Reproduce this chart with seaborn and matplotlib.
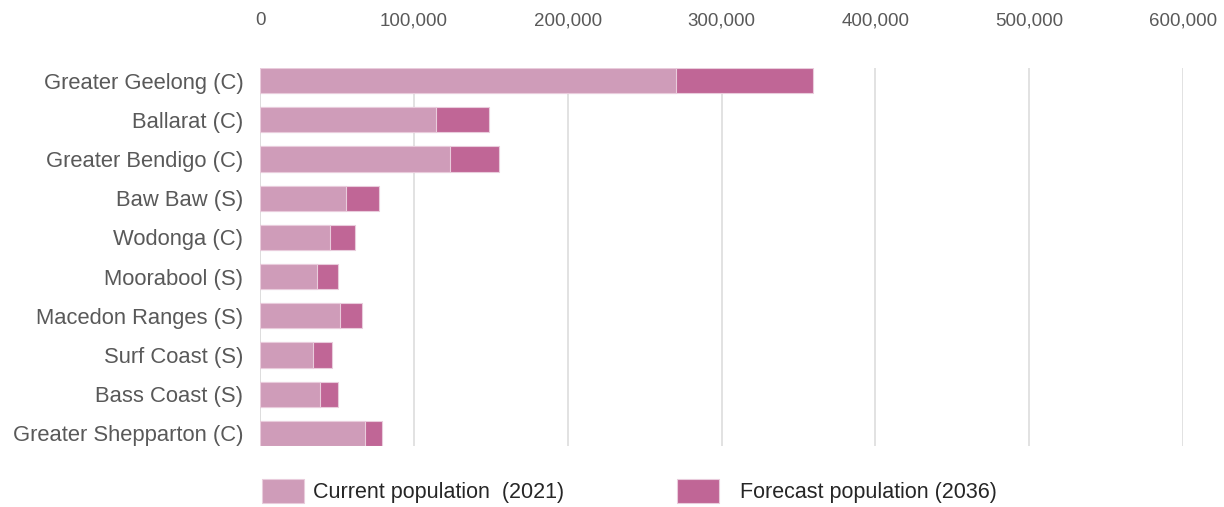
import matplotlib
matplotlib.use("Agg")
import matplotlib.pyplot as plt
import matplotlib.patches as mpatches
from matplotlib.ticker import FuncFormatter
import seaborn as sns
import pandas as pd

lgas = ["Greater Geelong (C)", "Ballarat (C)", "Greater Bendigo (C)", "Baw Baw (S)",
        "Wodonga (C)", "Moorabool (S)", "Macedon Ranges (S)", "Surf Coast (S)",
        "Bass Coast (S)", "Greater Shepparton (C)"]
current_2021 = [270600, 114700, 123700, 56100, 45400, 36900, 51900, 34500, 38900, 68200]
forecast_2036 = [359600, 149100, 155600, 77300, 61800, 51000, 66400, 46700, 51000, 79500]
xticks = [0, 100000, 200000, 300000, 400000, 500000, 600000]

df = pd.DataFrame({"lga": lgas, "current": current_2021, "forecast": forecast_2036})

sns.set_theme(style="white")
plt.rcParams["font.family"] = ["Liberation Sans", "DejaVu Sans"]

c_cur = "#CF9CB9"
c_fc = "#C06696"
edge = "#E9CCDC"
fs_x = 13.5
fs_y = 15.8
fs_leg = 15.5

fig = plt.figure(figsize=(12.24, 5.07), dpi=100)
ax = fig.add_axes([260 / 1224, 1 - 446 / 507, (1183 - 260) / 1224, (446 - 68) / 507])

bh = 0.64
sns.barplot(data=df, y="lga", x="forecast", orient="h", color=c_fc, width=bh,
            edgecolor=edge, linewidth=0.8, saturation=1, ax=ax, zorder=3)
sns.barplot(data=df, y="lga", x="current", orient="h", color=c_cur, width=bh,
            edgecolor=edge, linewidth=0.8, saturation=1, ax=ax, zorder=4)

ax.set_xlim(0, 600000)
ax.set_ylim(len(lgas) - 1 + bh / 2, -bh / 2)
ax.set_xticks(xticks)
ax.xaxis.set_major_formatter(FuncFormatter(lambda v, p: f"{int(v):,}"))
ax.xaxis.tick_top()
ax.tick_params(axis="x", length=0, pad=28, labelsize=fs_x, labelcolor="#595959")
ax.tick_params(axis="y", length=0, pad=12, labelsize=fs_y, labelcolor="#595959")
ax.set_xlabel("")
ax.set_ylabel("")
ax.grid(axis="x", color="#DDDDDD", linewidth=1.2, zorder=0)
ax.set_axisbelow(True)
for s in ax.spines.values():
    s.set_visible(False)
ax.axvline(0, color="#DDDDDD", linewidth=1.2, zorder=1)

handles = [mpatches.Patch(facecolor=c_cur, edgecolor=edge, linewidth=0.8),
           mpatches.Patch(facecolor=c_fc, edgecolor=edge, linewidth=0.8)]
labels = ["Current population  (2021)", "  Forecast population (2036)"]
fig.legend(handles, labels, loc="center left", bbox_to_anchor=(262 / 1224, 1 - 491 / 507),
           ncol=2, frameon=False, fontsize=fs_leg, handlelength=1.95, handleheight=1.35,
           handletextpad=0.42, columnspacing=5.25, borderpad=0, borderaxespad=0,
           labelcolor="#262626")

fig.savefig("out.png", dpi=100)
